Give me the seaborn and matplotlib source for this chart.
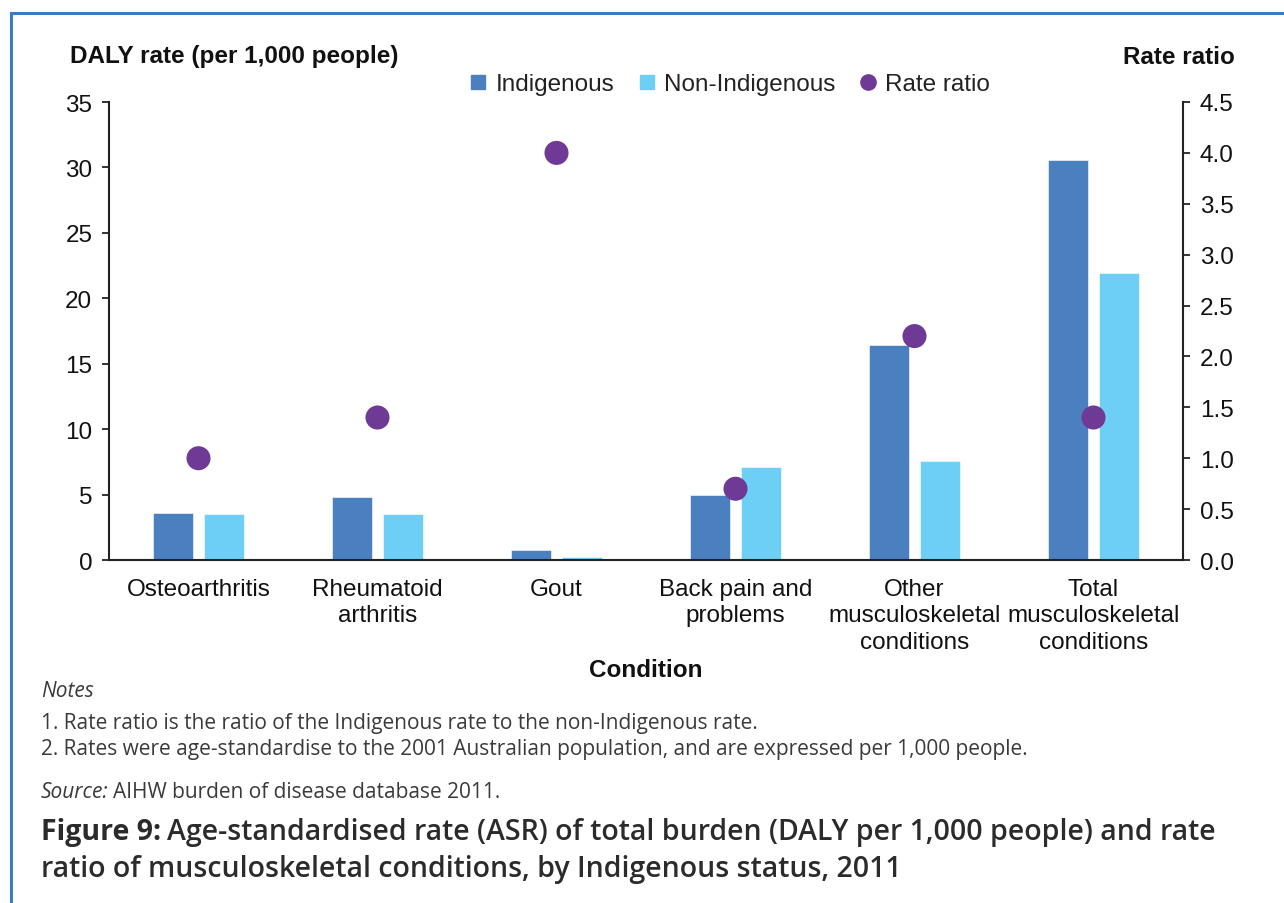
import matplotlib
matplotlib.use('Agg')
import matplotlib.pyplot as plt
from matplotlib.lines import Line2D
from matplotlib.patches import Rectangle
import seaborn as sns
import pandas as pd

# Data
conditions = ['Osteoarthritis', 'Rheumatoid\narthritis', 'Gout', 'Back pain and\nproblems',
              'Other\nmusculoskeletal\nconditions', 'Total\nmusculoskeletal\nconditions']
indigenous = [3.6, 4.8, 0.8, 5.0, 16.4, 30.6]
non_indigenous = [3.5, 3.5, 0.2, 7.1, 7.6, 21.9]
rate_ratio = [1.0, 1.4, 4.0, 0.7, 2.2, 1.4]
left_ticks = [0, 5, 10, 15, 20, 25, 30, 35]
right_ticks = [0.0, 0.5, 1.0, 1.5, 2.0, 2.5, 3.0, 3.5, 4.0, 4.5]

ind_color = '#4A7FC0'
non_color = '#6DCFF6'
ratio_color = '#6F3996'
frame_color = '#3A7CC6'

df = pd.DataFrame({
    'condition': conditions * 2,
    'group': ['Indigenous'] * len(conditions) + ['Non-Indigenous'] * len(conditions),
    'rate': indigenous + non_indigenous,
})

sns.set_theme(style='ticks')
plt.rcParams['font.family'] = ['Liberation Sans', 'DejaVu Sans']

FS = 17.5
fig = plt.figure(figsize=(12.84, 9.04), dpi=100)
ax = fig.add_axes([109 / 1284, 1 - 561 / 904, (1183 - 109) / 1284, (561 - 103) / 904])

sns.barplot(data=df, x='condition', y='rate', hue='group', order=conditions,
            palette={'Indigenous': ind_color, 'Non-Indigenous': non_color},
            width=0.56, gap=0.2, saturation=1, edgecolor='white', linewidth=0.4,
            legend=False, ax=ax)

ax.set_ylim(0, 35)
ax.set_xlim(-0.5, len(conditions) - 0.5)
ax.set_yticks(left_ticks)
ax.set_xlabel('Condition', fontsize=FS, fontweight='bold', labelpad=4, color='#111111')
ax.set_ylabel('')
ax.tick_params(axis='x', length=0, pad=13, labelsize=FS, colors='#111111')
ax.tick_params(axis='y', length=5, width=1.2, pad=7, labelsize=FS, colors='#111111')
for lbl in ax.get_xticklabels():
    lbl.set_linespacing(1.25)
for side in ['left', 'bottom']:
    ax.spines[side].set_linewidth(1.5)
    ax.spines[side].set_color('#222222')
ax.spines['top'].set_visible(False)
ax.spines['right'].set_visible(False)

# Rate ratio on the secondary axis
ax2 = ax.twinx()
sns.scatterplot(x=list(range(len(conditions))), y=rate_ratio, color=ratio_color,
                s=300, edgecolor='none', zorder=5, ax=ax2)
ax2.set_ylim(0, 4.5)
ax2.set_xlim(-0.5, len(conditions) - 0.5)
ax2.set_yticks(right_ticks)
ax2.set_yticklabels([f'{t:.1f}' for t in right_ticks])
ax2.tick_params(axis='y', length=5, width=1.2, pad=7, labelsize=FS, colors='#111111')
ax2.spines['right'].set_linewidth(1.5)
ax2.spines['right'].set_color('#222222')
ax2.spines['top'].set_visible(False)
ax2.spines['left'].set_visible(False)
ax2.spines['bottom'].set_visible(False)

# Axis titles above the axes
fig.text(70 / 1284, 1 - 57 / 904, 'DALY rate (per 1,000 people)', fontsize=FS,
         fontweight='bold', ha='left', va='center', color='#111111')
fig.text(1235 / 1284, 1 - 57 / 904, 'Rate ratio', fontsize=FS,
         fontweight='bold', ha='right', va='center', color='#111111')

# Legend
handles = [
    Line2D([], [], marker='s', linestyle='none', markersize=9.5, color=ind_color),
    Line2D([], [], marker='s', linestyle='none', markersize=9.5, color=non_color),
    Line2D([], [], marker='o', linestyle='none', markersize=11, color=ratio_color),
]
fig.legend(handles, ['Indigenous', 'Non-Indigenous', 'Rate ratio'], ncol=3,
           loc='center', bbox_to_anchor=(730 / 1284, 1 - 85 / 904), frameon=False,
           fontsize=FS, handlelength=0.7, handletextpad=0.35, columnspacing=1.0,
           labelcolor='#222222')

# Notes and source
note_color = '#3a3a3a'
note_font = ['Open Sans', 'DejaVu Sans']
NFS = 15
fig.text(41 / 1284, 1 - 692 / 904, 'Notes', fontsize=NFS, style='italic',
         family=note_font, color=note_color, va='center')
fig.text(41 / 1284, 1 - 724 / 904,
         '1. Rate ratio is the ratio of the Indigenous rate to the non-Indigenous rate.',
         fontsize=NFS, family=note_font, color=note_color, va='center')
fig.text(41 / 1284, 1 - 750 / 904,
         '2. Rates were age-standardise to the 2001 Australian population, and are expressed per 1,000 people.',
         fontsize=NFS, family=note_font, color=note_color, va='center')
src = fig.text(41 / 1284, 1 - 793 / 904, 'Source:', fontsize=NFS, style='italic',
               family=note_font, color=note_color, va='center')
fig.canvas.draw()
bb = src.get_window_extent()
fig.text((bb.x1 + 4) / 1284, 1 - 793 / 904, 'AIHW burden of disease database 2011.',
         fontsize=NFS, family=note_font, color=note_color, va='center')

# Figure caption
cap_color = '#2b2b2b'
CFS = 20.5
cap = fig.text(41 / 1284, 1 - 833 / 904, 'Figure 9:', fontsize=CFS, fontweight='bold',
               family=note_font, color=cap_color, va='center')
fig.canvas.draw()
bb = cap.get_window_extent()
fig.text((bb.x1 + 6) / 1284, 1 - 833 / 904,
         'Age-standardised rate (ASR) of total burden (DALY per 1,000 people) and rate',
         fontsize=CFS, fontweight='semibold', family=note_font, color=cap_color, va='center')
fig.text(41 / 1284, 1 - 870 / 904,
         'ratio of musculoskeletal conditions, by Indigenous status, 2011',
         fontsize=CFS, fontweight='semibold', family=note_font, color=cap_color, va='center')

# Blue frame (left and top edges)
fig.add_artist(Rectangle((11.5 / 1284, -0.1), 1.2, 1.1 - 13.5 / 904,
                         transform=fig.transFigure, fill=False,
                         edgecolor=frame_color, linewidth=2.2))

fig.savefig('out.png', dpi=100)
